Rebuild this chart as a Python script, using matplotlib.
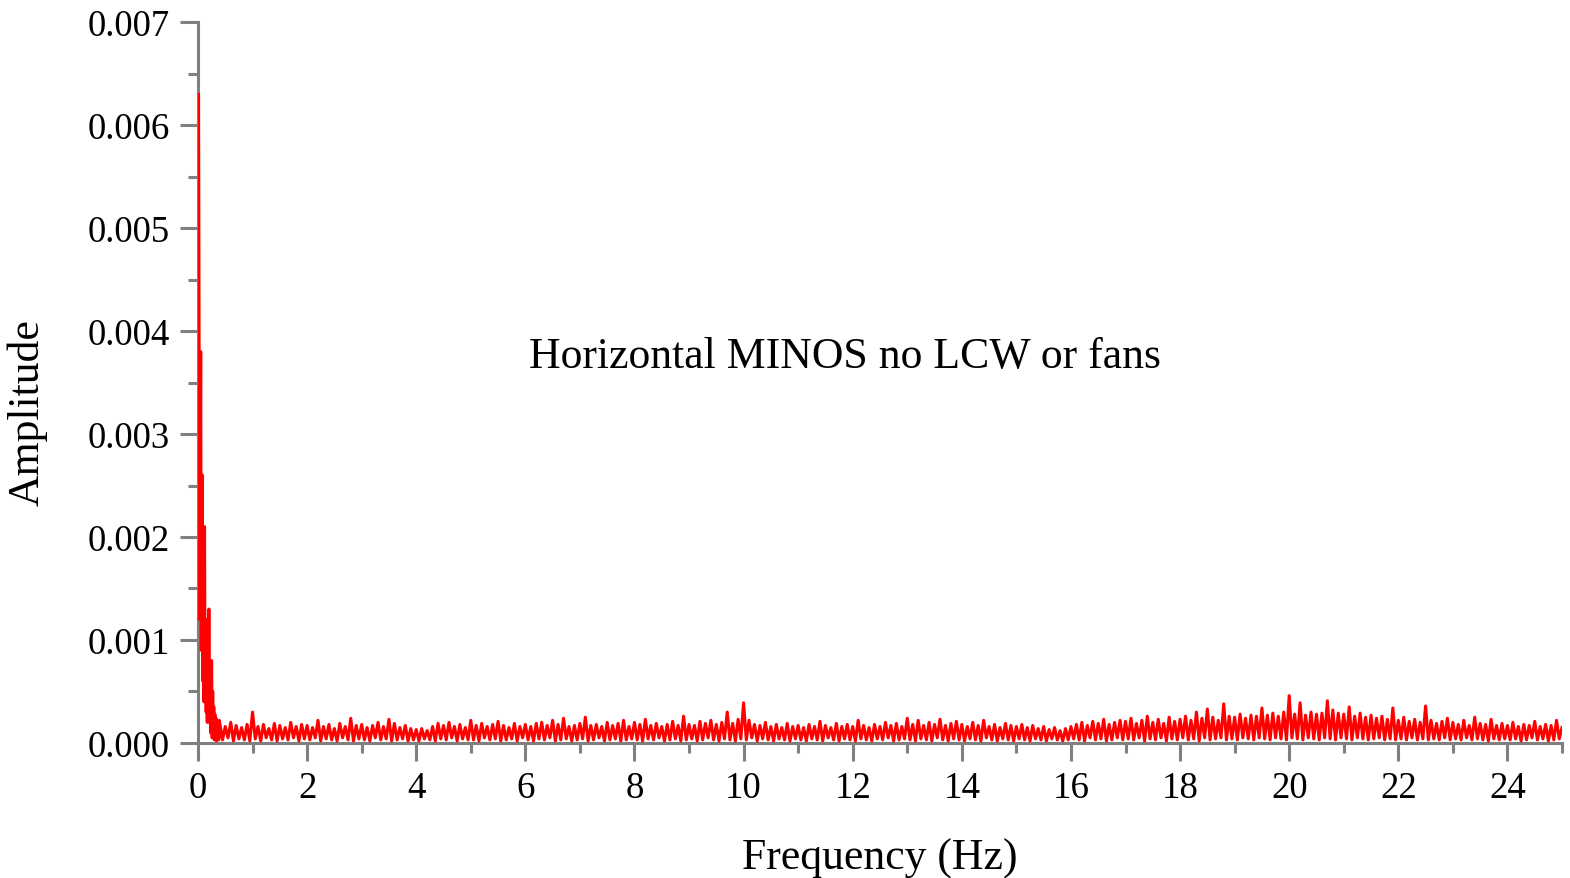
import numpy as np
import matplotlib.pyplot as plt

plt.rcParams['font.family'] = ['Liberation Serif', 'DejaVu Serif']

# amplitude in units of 1e-4, fine grid 0.00-0.39 Hz (0.01 Hz step)
amp_low = [
    20, 63, 40, 12, 25, 38, 9, 18, 26, 6,
    15, 4, 21, 5, 12, 3, 10, 2, 8, 3,
    13, 2, 7, 1, 6, 8, 0.5, 5, 0.6, 3.5,
    0.3, 2.8, 0.4, 2.4, 0.2, 2.1, 0.5, 1.8, 0.3, 2.2,
]

# amplitude in units of 1e-4, 0.40-25.00 Hz (0.05 Hz step)
amp_band = [
    # 0.40 - 0.95
    1.9, 0.3, 1.6, 0.5, 2.0, 0.2, 1.7, 0.4, 1.5, 0.3, 1.8, 0.2,
    # 1
    3.0, 0.4, 1.6, 0.2, 1.8, 0.5, 1.4, 0.3, 1.9, 0.2, 1.7, 0.4, 1.5, 0.3, 2.0, 0.5, 1.6, 0.2, 1.8, 0.4,
    # 2
    1.7, 0.3, 1.5, 0.5, 2.2, 0.2, 1.6, 0.4, 1.8, 0.3, 1.4, 0.2, 1.9, 0.5, 1.6, 0.3, 2.4, 0.2, 1.7, 0.4,
    # 3
    1.8, 0.3, 1.5, 0.2, 1.7, 0.5, 2.0, 0.3, 1.6, 0.4, 2.3, 0.2, 1.9, 0.3, 1.5, 0.4, 1.7, 0.2, 1.4, 0.3,
    # 4
    1.3, 0.2, 1.4, 0.4, 1.2, 0.3, 1.6, 0.2, 1.9, 0.4, 1.7, 0.3, 2.0, 0.5, 1.6, 0.2, 1.8, 0.4, 1.5, 0.3,
    # 5
    2.2, 0.3, 1.7, 0.2, 1.9, 0.5, 1.6, 0.3, 1.8, 0.4, 2.1, 0.2, 1.7, 0.3, 1.5, 0.4, 1.9, 0.2, 1.6, 0.5,
    # 6
    1.8, 0.3, 1.6, 0.2, 1.9, 0.4, 2.0, 0.3, 1.7, 0.5, 2.2, 0.2, 1.8, 0.3, 2.4, 0.4, 1.6, 0.2, 1.7, 0.3,
    # 7
    1.9, 0.4, 2.5, 0.2, 1.7, 0.3, 1.8, 0.5, 1.6, 0.2, 2.0, 0.3, 1.7, 0.4, 1.9, 0.2, 2.2, 0.3, 1.6, 0.4,
    # 8
    2.0, 0.3, 1.8, 0.2, 2.3, 0.4, 1.7, 0.3, 1.9, 0.5, 1.6, 0.2, 1.8, 0.3, 2.1, 0.4, 1.7, 0.2, 2.6, 0.3,
    # 9
    1.8, 0.4, 1.7, 0.2, 2.1, 0.3, 1.9, 0.5, 2.2, 0.3, 1.8, 0.2, 2.0, 0.4, 3.0, 0.3, 1.9, 0.2, 2.3, 0.4,
    # 10
    3.9, 0.3, 2.2, 0.5, 1.8, 0.2, 1.7, 0.4, 2.0, 0.3, 1.6, 0.2, 1.8, 0.4, 1.5, 0.3, 1.9, 0.2, 1.6, 0.4,
    # 11
    1.7, 0.3, 1.5, 0.2, 1.8, 0.4, 1.6, 0.3, 2.1, 0.2, 1.7, 0.5, 1.5, 0.3, 1.9, 0.2, 1.6, 0.4, 1.8, 0.3,
    # 12
    1.6, 0.2, 2.2, 0.4, 1.7, 0.3, 1.5, 0.2, 1.8, 0.4, 1.6, 0.3, 2.0, 0.5, 1.7, 0.2, 1.9, 0.3, 1.6, 0.4,
    # 13
    2.4, 0.3, 1.8, 0.2, 2.2, 0.4, 1.7, 0.3, 2.0, 0.2, 1.8, 0.5, 2.3, 0.3, 1.7, 0.2, 1.9, 0.4, 2.1, 0.3,
    # 14
    1.8, 0.2, 1.6, 0.4, 2.0, 0.3, 1.7, 0.2, 2.2, 0.5, 1.6, 0.3, 1.8, 0.2, 1.5, 0.4, 1.9, 0.3, 1.7, 0.2,
    # 15
    1.6, 0.4, 1.8, 0.3, 1.5, 0.2, 1.7, 0.4, 1.4, 0.3, 1.6, 0.2, 1.3, 0.4, 1.5, 0.3, 1.2, 0.2, 1.4, 0.3,
    # 16
    1.6, 0.4, 1.8, 0.3, 2.0, 0.2, 1.7, 0.5, 2.1, 0.3, 1.9, 0.4, 2.3, 0.2, 1.8, 0.3, 2.0, 0.5, 2.2, 0.3,
    # 17
    2.1, 0.4, 2.4, 0.3, 1.9, 0.5, 2.2, 0.2, 2.6, 0.4, 2.0, 0.3, 2.3, 0.5, 1.9, 0.2, 2.5, 0.4, 2.1, 0.3,
    # 18
    2.3, 0.5, 2.6, 0.3, 2.2, 0.4, 3.0, 0.2, 2.4, 0.5, 3.3, 0.3, 2.5, 0.4, 2.2, 0.5, 3.8, 0.3, 2.6, 0.4,
    # 19
    2.5, 0.3, 2.8, 0.5, 2.4, 0.4, 2.7, 0.3, 2.6, 0.5, 3.4, 0.4, 2.7, 0.3, 2.9, 0.5, 2.6, 0.4, 3.0, 0.3,
    # 20
    4.6, 0.5, 2.8, 0.4, 3.9, 0.3, 2.7, 0.5, 3.0, 0.4, 2.8, 0.3, 2.9, 0.5, 4.1, 0.4, 3.2, 0.3, 2.9, 0.5,
    # 21
    2.8, 0.4, 3.5, 0.3, 2.6, 0.5, 2.9, 0.4, 2.5, 0.3, 2.7, 0.4, 2.4, 0.5, 2.6, 0.3, 2.3, 0.4, 3.4, 0.3,
    # 22
    2.2, 0.4, 2.5, 0.3, 2.1, 0.5, 2.3, 0.3, 2.0, 0.4, 3.6, 0.3, 2.2, 0.4, 1.9, 0.3, 2.1, 0.5, 2.4, 0.3,
    # 23
    2.0, 0.4, 1.8, 0.3, 2.2, 0.5, 1.7, 0.3, 2.5, 0.4, 1.9, 0.3, 1.8, 0.2, 2.3, 0.4, 1.7, 0.3, 1.9, 0.4,
    # 24
    1.7, 0.3, 2.0, 0.4, 1.6, 0.2, 1.8, 0.3, 1.7, 0.5, 2.1, 0.3, 1.6, 0.4, 1.8, 0.2, 1.7, 0.3, 2.2, 0.4,
    # 25
    1.5,
]

freq = np.concatenate([
    0.01 * np.arange(len(amp_low)),
    0.40 + 0.05 * np.arange(len(amp_band)),
])
amp = np.array(amp_low + amp_band) * 1e-4

gray = '#808080'

fig = plt.figure(figsize=(15.7, 8.79), dpi=100)
ax = fig.add_axes([0.1261, 0.1536, 0.8688, 0.8202])

ax.plot(freq, amp, color='#ff0000', lw=2.2, zorder=3)

ax.set_xlim(0, 25)
ax.set_ylim(0, 0.007)
ax.set_xticks(np.arange(0, 25, 2))
ax.set_xticks(np.arange(1, 26, 2), minor=True)
ax.set_yticks(np.arange(0, 0.0071, 0.001))
ax.set_yticks(np.arange(0.0005, 0.007, 0.001), minor=True)
ax.yaxis.set_major_formatter(plt.FuncFormatter(lambda v, p: f'{v:.3f}'))

for side in ['top', 'right']:
    ax.spines[side].set_visible(False)
for side in ['left', 'bottom']:
    ax.spines[side].set_color(gray)
    ax.spines[side].set_linewidth(2.2)

ax.tick_params(which='major', direction='out', length=13, width=2.2,
               color=gray, labelsize=26.5, pad=7)
ax.tick_params(which='minor', direction='out', length=7, width=2.2, color=gray)

ax.set_xlabel('Frequency (Hz)', fontsize=31.5, labelpad=23)
ax.set_ylabel('Amplitude', fontsize=31.5)
ax.yaxis.set_label_coords(-0.110, 0.46)

ax.text(0.474, 0.537, 'Horizontal MINOS no LCW or fans', transform=ax.transAxes,
        ha='center', va='center', fontsize=31.5)

fig.savefig('out.png', dpi=100)
